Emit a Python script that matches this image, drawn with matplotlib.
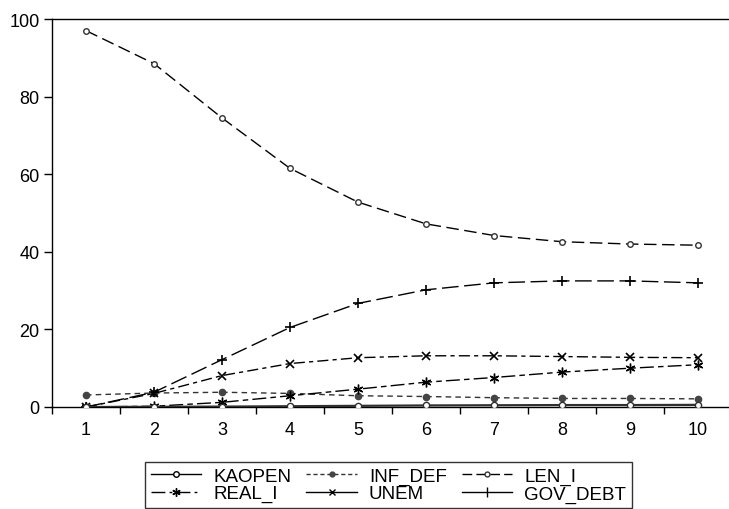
import matplotlib
matplotlib.use("Agg")
import matplotlib.pyplot as plt
from matplotlib.lines import Line2D

plt.rcParams['font.family'] = ['Liberation Sans', 'DejaVu Sans']

periods = list(range(1, 11))
kaopen = [0.0, 0.05, 0.1, 0.2, 0.3, 0.4, 0.45, 0.5, 0.5, 0.55]
inf_def = [3.1, 3.6, 3.8, 3.5, 2.9, 2.7, 2.4, 2.2, 2.2, 2.1]
len_i = [97.0, 88.5, 74.5, 61.5, 52.8, 47.2, 44.2, 42.6, 42.0, 41.7]
real_i = [0.0, 0.2, 1.2, 2.9, 4.6, 6.4, 7.6, 9.0, 10.0, 10.9]
unem = [0.0, 3.5, 8.1, 11.2, 12.7, 13.2, 13.2, 13.0, 12.8, 12.7]
gov_debt = [0.0, 3.8, 12.2, 20.5, 26.7, 30.2, 32.0, 32.5, 32.5, 32.0]
y_ticks = [0, 20, 40, 60, 80, 100]

W, H = 729, 510
fig = plt.figure(figsize=(W / 100, H / 100), dpi=100)
ax = fig.add_axes([52 / W, 1 - 408 / H, 680 / W, (408 - 20) / H])

ax.plot(periods, kaopen, color='#303030', lw=1.6, marker='o', ms=4.5,
        mfc='white', mec='#303030', mew=1.0, label='KAOPEN', zorder=6)
ax.plot(periods, inf_def, color='#333333', lw=1.0, dashes=(4, 3), marker='o',
        ms=4.5, mfc='#444444', mec='#444444', label='INF_DEF')
ax.plot(periods, len_i, color='black', lw=1.0, dashes=(9, 4), marker='o',
        ms=4, mfc='white', mec='#333333', mew=1.0, label='LEN_I')
ax.plot(periods, real_i, color='black', lw=1.0, dashes=(10, 3, 4, 3), marker=(6, 2, 0),
        ms=7, mec='black', mew=1.0, label='REAL_I')
ax.plot(periods, unem, color='black', lw=1.0, dashes=(8, 3, 3, 3), marker='x',
        ms=5.5, mec='black', mew=1.2, label='UNEM')
ax.plot(periods, gov_debt, color='black', lw=1.0, dashes=(12, 4), marker='+',
        ms=7, mec='black', mew=1.2, label='GOV_DEBT')

ax.set_xlim(0.5, 10.5)
ax.set_ylim(0, 100)
ax.set_yticks(y_ticks)
ax.set_xticks(periods)
ax.set_xticks([p - 0.5 for p in periods] + [10.5], minor=True)
ax.tick_params(axis='x', which='major', length=0, pad=10, labelsize=13)
ax.tick_params(axis='x', which='minor', length=5, width=1, direction='out')
ax.tick_params(axis='y', length=6, width=1, direction='out', labelsize=13, pad=3)
ax.spines['right'].set_visible(False)
for s in ['left', 'top', 'bottom']:
    ax.spines[s].set_linewidth(1.0)

h = [
    Line2D([], [], color='black', lw=1, marker='o', ms=4, mfc='white', mec='black'),
    Line2D([], [], color='black', lw=1, dashes=(10, 3, 2, 3), marker=(6, 2, 0), ms=6),
    Line2D([], [], color='#333333', lw=1, dashes=(3, 2), marker='o', ms=3.5, mfc='#444444', mec='#444444'),
    Line2D([], [], color='black', lw=1, marker='x', ms=5),
    Line2D([], [], color='black', lw=1, dashes=(7, 3), marker='o', ms=3.5, mfc='white', mec='#333333'),
    Line2D([], [], color='black', lw=1, marker='|', ms=7),
]
labels = ['KAOPEN', 'REAL_I', 'INF_DEF', 'UNEM', 'LEN_I', 'GOV_DEBT']
leg = fig.legend(h, labels, ncol=3, loc='upper left',
                 bbox_to_anchor=(145 / W, 1 - 463 / H), frameon=True,
                 fancybox=False, edgecolor='black', fontsize=13.5,
                 handlelength=2.7, handletextpad=0.64, columnspacing=0.8,
                 labelspacing=0.02, borderpad=0.3, borderaxespad=0)
leg.get_frame().set_linewidth(1.0)

fig.savefig('out.png', dpi=100)
